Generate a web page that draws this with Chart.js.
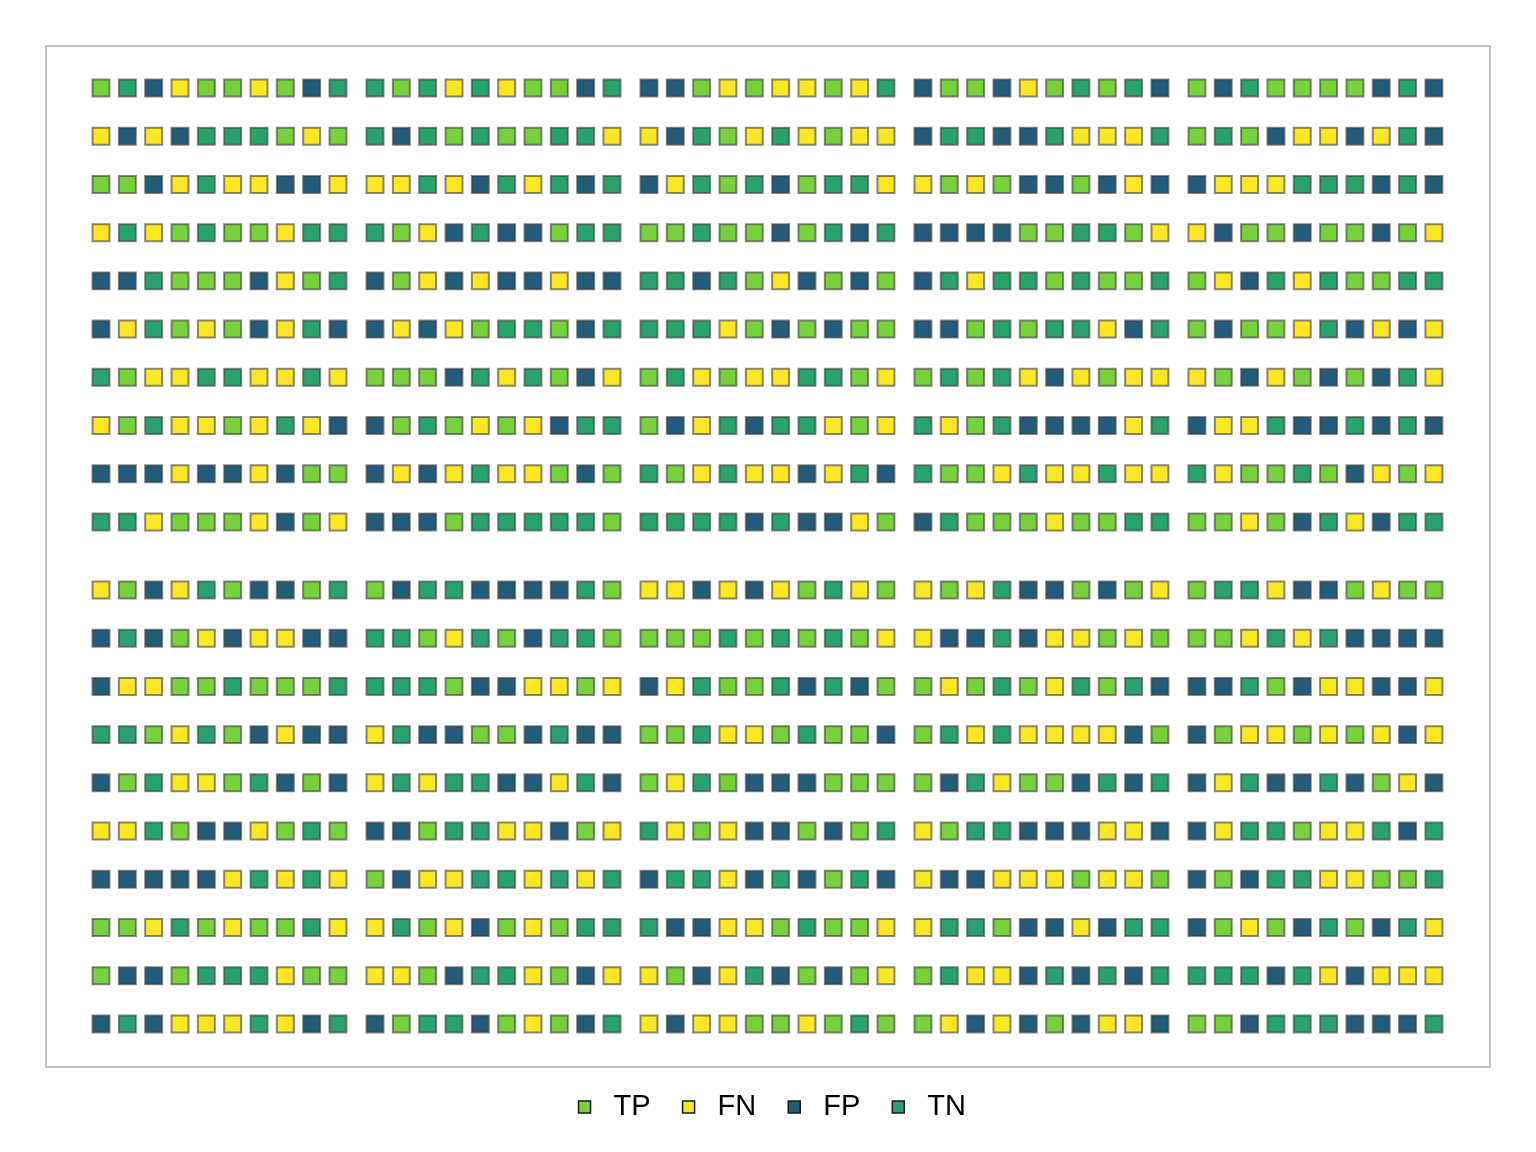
<!DOCTYPE html>
<html>
<head>
<meta charset="utf-8">
<script src="https://cdn.jsdelivr.net/npm/chart.js@4/dist/chart.umd.min.js"></script>
<style>
  html, body { margin: 0; padding: 0; background: #ffffff; }
  #wrap { width: 1536px; height: 1152px; position: relative; }
</style>
</head>
<body>
<div id="wrap"><canvas id="c" width="1536" height="1152"></canvas></div>
<script>
// Categories (index used in the grid strings below)
const categories = ['TP', 'FN', 'FP', 'TN'];
const categoryColors = ['#76D13B', '#FDE725', '#235B7A', '#29A36E'];

// Outcome grid: each string is one row, 5 blocks of 10 cells (0=TP,1=FN,2=FP,3=TN)
const topRows = [
  '0321001023 3031310023 2201011013 2002103032 0230000232',
  '1212333010 3230300331 1230131011 2332231113 0302112132',
  '0021311221 1131231323 2130320331 1010220212 2111333232',
  '1310300133 3012322033 0030020323 2222003301 1200200201',
  '2230002103 2012122122 3323012020 2313303003 0123130033',
  '2130102132 2121033023 3331020200 2203033123 0200132121',
  '3011331131 0002313021 0310113301 0303121011 1021020231',
  '1031101312 2030101233 0213233101 3103222213 2113223232',
  '2221221200 2121311020 3013112132 3001311311 3100302101',
  '3310001201 2220333330 3333232210 2300010033 0010231233'
];
const bottomRows = [
  '1021302203 0233222230 1121210310 1013220201 0331220100',
  '2320121122 3301302330 0003030301 1223211010 0013132222',
  '2110030003 3330221101 2130032320 0103013032 2230211221',
  '3301302122 1322002322 0031103002 0313111120 2011010121',
  '2031103202 1313322132 0130222000 0231002323 2132232012',
  '1130221030 2203311201 3101220203 1033222112 2133011323',
  '2222213131 0211331313 2331232032 1221110110 2023311003',
  '0013010031 1301201033 3221103001 1330221233 2010230231',
  '0220333100 1102331021 1021320201 0311232323 3332312111',
  '2321113123 2033201023 1211001030 0121202112 0023332223'
];

// Layout constants (block gaps in units of one cell step)
const BLOCK_SIZE = 10;
const X_GAP = 0.405;
const Y_GAP = 0.41;
const FRAME_BOTTOM_INSET = 2;

const allRows = topRows.concat(bottomRows).map(r => r.replace(/\s+/g, ''));

const datasets = categories.map((name, k) => {
  const pts = [];
  allRows.forEach((row, r) => {
    for (let c = 0; c < row.length; c++) {
      if (Number(row[c]) === k) {
        pts.push({
          x: c + Math.floor(c / BLOCK_SIZE) * X_GAP,
          y: r + Math.floor(r / BLOCK_SIZE) * Y_GAP
        });
      }
    }
  });
  return {
    label: name,
    data: pts,
    pointStyle: 'rect',
    pointRadius: 12,
    pointHoverRadius: 12,
    backgroundColor: categoryColors[k],
    borderColor: 'rgba(60,60,60,0.6)',
    borderWidth: 2,
    showLine: false
  };
});

const framePlugin = {
  id: 'frame',
  beforeDatasetsDraw(chart) {
    const a = chart.chartArea;
    const ctx = chart.ctx;
    ctx.save();
    ctx.strokeStyle = '#b3b3b3';
    ctx.lineWidth = 1.6;
    ctx.strokeRect(a.left, a.top, a.right - a.left, a.bottom - a.top - FRAME_BOTTOM_INSET);
    ctx.restore();
  }
};

new Chart(document.getElementById('c'), {
  type: 'scatter',
  data: { datasets },
  options: {
    responsive: false,
    animation: false,
    events: [],
    layout: { padding: { left: 46, right: 46, top: 46, bottom: 20.5 } },
    scales: {
      x: { type: 'linear', display: false, min: -2.089, max: 52.75 },
      y: { type: 'linear', display: false, reverse: true, min: -0.871, max: 20.344 }
    },
    plugins: {
      tooltip: { enabled: false },
      legend: {
        position: 'bottom',
        labels: {
          usePointStyle: true,
          boxHeight: 12,
          padding: 23.5,
          color: '#000000',
          font: { family: "'Liberation Sans', Arial, sans-serif", size: 29 },
          generateLabels(chart) {
            const items = Chart.defaults.plugins.legend.labels.generateLabels(chart);
            return items.map(it => Object.assign(it, { strokeStyle: '#1a1a1a', lineWidth: 1.5 }));
          }
        }
      }
    }
  },
  plugins: [framePlugin]
});
</script>
</body>
</html>
